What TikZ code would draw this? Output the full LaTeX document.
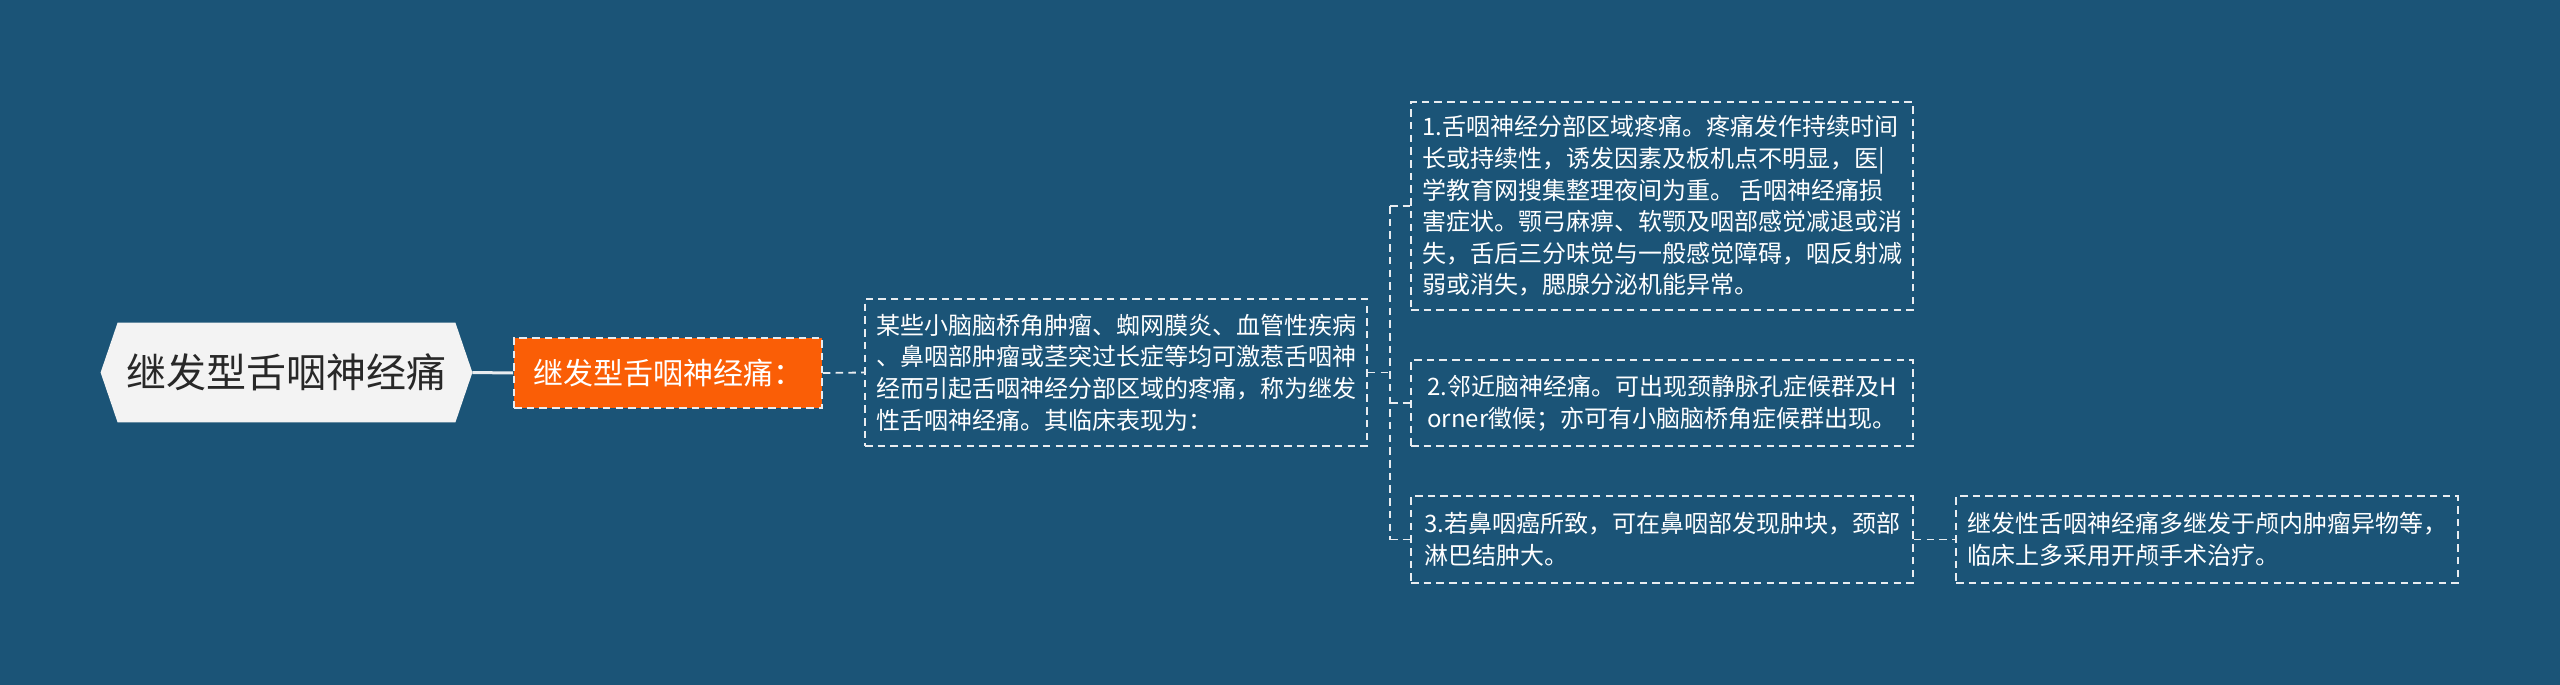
\documentclass[tikz,border=0pt]{standalone}
\usepackage{fontspec}
\setmainfont{Noto Sans CJK SC}
\usetikzlibrary{calc}
\definecolor{bg}{RGB}{27,84,119}
\definecolor{hexfill}{RGB}{243,243,243}
\definecolor{hextext}{RGB}{40,40,40}
\definecolor{orangefill}{RGB}{250,94,6}
\definecolor{linec}{RGB}{232,236,240}
\pgfdeclarelayer{bglayer}
\pgfdeclarelayer{hexlayer}
\pgfsetlayers{bglayer,hexlayer,main}
\begin{document}
\begin{tikzpicture}[x=0.5pt,y=-0.5pt,
  dc/.style={draw=linec, line width=0.9pt, dash pattern=on 3.75pt off 2.6pt},
  solidc/.style={draw=linec, line width=1.5pt},
  box/.style={dc, text=white, font=\fontsize{12}{15.8}\selectfont, align=left,
    inner sep=0pt, minimum width=251pt},
  rootbox/.style={inner sep=0pt, minimum width=185.5pt, minimum height=49.5pt,
    text=hextext, font=\fontsize{20}{24}\selectfont},
  orangebox/.style={dc, fill=orangefill, text=white, inner sep=0pt,
    minimum width=154pt, minimum height=35pt, font=\fontsize{15}{18}\selectfont}
]
\begin{pgfonlayer}{bglayer}
\fill[bg] (0,0) rectangle (2560,685);
\end{pgfonlayer}
\useasboundingbox (0,0) rectangle (2560,685);

\node[rootbox] (root) at (286.5,372.5) {继发型舌咽神经痛};
\begin{pgfonlayer}{hexlayer}
\fill[hexfill] ($(root.north west)+(17,0)$) -- ($(root.north east)+(-17,0)$) -- (root.east)
  -- ($(root.south east)+(-17,0)$) -- ($(root.south west)+(17,0)$) -- (root.west) -- cycle;
\end{pgfonlayer}

\node[orangebox] (mid) at (668,373) {继发型舌咽神经痛：};

\node[box, minimum height=73.5pt] (desc) at (1116,372.5) {某些小脑脑桥角肿瘤、蜘网膜炎、血管性疾病\\、鼻咽部肿瘤或茎突过长症等均可激惹舌咽神\\经而引起舌咽神经分部区域的疼痛，称为继发\\性舌咽神经痛。其临床表现为：};

\node[box, minimum height=104pt] (c1) at (1662,206) {1.舌咽神经分部区域疼痛。疼痛发作持续时间\\长或持续性，诱发因素及板机点不明显，医|\\学教育网搜集整理夜间为重。 舌咽神经痛损\\害症状。颚弓麻痹、软颚及咽部感觉减退或消\\失，舌后三分味觉与一般感觉障碍，咽反射减\\弱或消失，腮腺分泌机能异常。};

\node[box, minimum height=43pt] (c2) at (1662,403) {2.邻近脑神经痛。可出现颈静脉孔症候群及H\\orner徵候；亦可有小脑脑桥角症候群出现。};

\node[box, minimum height=43.5pt] (c3) at (1662,539.5) {3.若鼻咽癌所致，可在鼻咽部发现肿块，颈部\\淋巴结肿大。};

\node[box, minimum height=43.5pt] (g1) at (2207,539.5) {继发性舌咽神经痛多继发于颅内肿瘤异物等，\\临床上多采用开颅手术治疗。};

\draw[solidc] (root.east) -- (mid.west);
\draw[dc] (mid.east) -- (desc.west);
\coordinate (br) at (1390,372.5);
\draw[dc] (desc.east) -- (br);
\draw[dc] (br |- c1.west) -- (br |- c3.west);
\draw[dc] (br |- c1.west) -- (c1.west);
\draw[dc] (br |- c2.west) -- (c2.west);
\draw[dc] (br |- c3.west) -- (c3.west);
\draw[dc] (c3.east) -- (g1.west);
\end{tikzpicture}
\end{document}
